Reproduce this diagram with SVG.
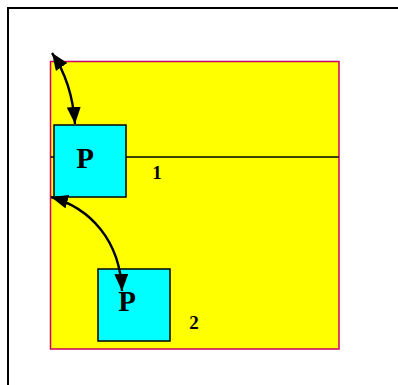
<svg xmlns="http://www.w3.org/2000/svg" width="398" height="385" viewBox="0 0 398 385">
<style>
.box{fill:#00ffff;stroke:#000;stroke-width:1.5}
.p{font-family:"Liberation Serif",serif;font-weight:bold;font-size:29px;fill:#000;text-anchor:middle}
.n{font-family:"Liberation Serif",serif;font-weight:bold;font-size:19px;fill:#000;text-anchor:middle}
.c{fill:none;stroke:#000;stroke-width:2.4}
</style>
<defs>
<marker id="ah" markerUnits="userSpaceOnUse" markerWidth="18" markerHeight="14" refX="17" refY="7" orient="auto-start-reverse">
<path d="M0,0 L17,7 L0,14 z" fill="#000"/>
</marker>
</defs>
<rect x="0" y="0" width="398" height="385" fill="#fff"/>
<rect x="8" y="8" width="400" height="400" fill="none" stroke="#000" stroke-width="2"/>
<g id="container">
<rect x="50.5" y="61.5" width="288.5" height="287.5" fill="#ffff00" stroke="#cc0066" stroke-width="1.5"/>
<line x1="50.5" y1="157" x2="339" y2="157" stroke="#000" stroke-width="1.5"/>
</g>
<g id="node1">
<rect class="box" x="54" y="125" width="72" height="72"/>
<text class="p" x="85" y="168">P</text>
<text class="n" x="157" y="179">1</text>
</g>
<g id="node2">
<rect class="box" x="98" y="269" width="72" height="72"/>
<text class="p" x="127" y="311">P</text>
<text class="n" x="194" y="329">2</text>
</g>
<g id="connectors">
<path class="c" d="M52,53 Q72,82 75,124" marker-start="url(#ah)" marker-end="url(#ah)"/>
<path class="c" d="M51,197 C90,208 120,240 122,291" marker-start="url(#ah)" marker-end="url(#ah)"/>
</g>
</svg>
